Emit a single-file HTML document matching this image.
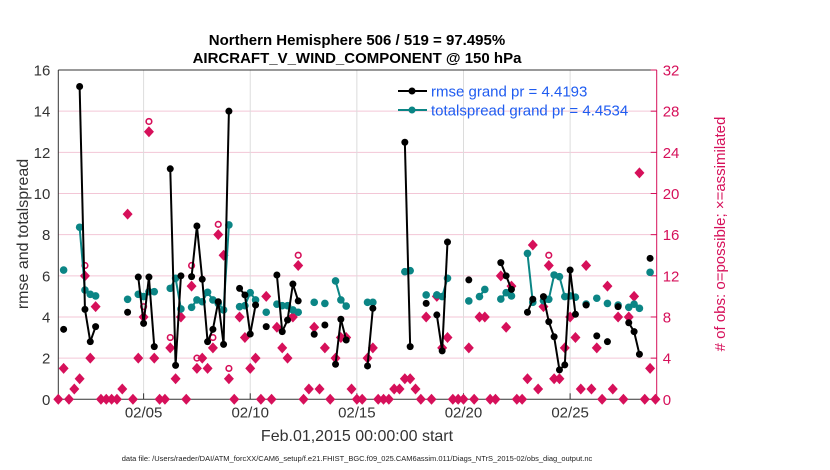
<!DOCTYPE html>
<html><head><meta charset="utf-8"><style>
body{margin:0;background:#fff;}
svg{display:block;font-family:"Liberation Sans",sans-serif;}
</style></head><body>
<svg id="chart" width="830" height="470" viewBox="0 0 830 470">
<text x="357" y="45" text-anchor="middle" font-size="15" font-weight="bold" fill="#000">Northern Hemisphere 506 / 519 = 97.495%</text>
<text x="357" y="63" text-anchor="middle" font-size="15" font-weight="bold" fill="#000">AIRCRAFT_V_WIND_COMPONENT @ 150 hPa</text>
<g id="grid"></g>
<g id="axes"></g>
<g id="marks"></g>
<text transform="translate(28,234) rotate(-90)" text-anchor="middle" font-size="16" fill="#333">rmse and totalspread</text>
<text transform="translate(725,234) rotate(-90)" text-anchor="middle" font-size="15" fill="#d6105a"># of obs: o=possible; ×=assimilated</text>
<text x="357" y="441" text-anchor="middle" font-size="16" fill="#333">Feb.01,2015 00:00:00 start</text>
<text x="357" y="461" text-anchor="middle" font-size="7.5" fill="#222">data file: /Users/raeder/DAI/ATM_forcXX/CAM6_setup/f.e21.FHIST_BGC.f09_025.CAM6assim.011/Diags_NTrS_2015-02/obs_diag_output.nc</text>
<g>
<line x1="398" y1="91" x2="427" y2="91" stroke="#000" stroke-width="2"/>
<circle cx="412" cy="91" r="3.5" fill="#000"/>
<text x="431" y="96.5" font-size="15" fill="#1f5cf0">rmse grand pr = 4.4193</text>
<line x1="398" y1="110" x2="427" y2="110" stroke="#0b8585" stroke-width="2"/>
<circle cx="412" cy="110" r="3.5" fill="#0b8585"/>
<text x="431" y="115.5" font-size="15" fill="#1f5cf0">totalspread grand pr = 4.4534</text>
</g>
</svg>
<script>
const xTickLabels=["02/05","02/10","02/15","02/20","02/25"];
const xTickDays=[5,10,15,20,25];
const yTicks=[0,2,4,6,8,10,12,14,16];
const rTicks=[0,4,8,12,16,20,24,28,32];
const N=113;
function sparse(pairs){const a=new Array(N).fill(null);for(const [i,v] of pairs)a[i]=v;return a;}
const rmse=sparse([[1,3.4],[4,15.2],[5,4.37],[6,2.8],[7,3.53],[13,4.23],[15,5.94],[16,3.69],[17,5.94],[18,2.56],[21,11.2],[22,1.65],[23,6.0],[25,5.96],[26,8.42],[27,5.83],[28,2.8],[29,3.4],[30,4.74],[31,2.67],[32,14.0],[34,5.39],[35,5.07],[36,3.17],[37,4.58],[39,3.53],[41,6.04],[42,3.29],[43,3.85],[44,5.6],[45,4.78],[48,3.16],[50,3.61],[52,1.7],[53,3.89],[54,2.88],[58,1.62],[59,4.42],[65,12.49],[66,2.56],[69,4.66],[71,4.1],[72,2.35],[73,7.64],[77,5.8],[83,6.64],[84,6.0],[85,5.34],[88,4.23],[89,4.86],[91,4.99],[92,3.77],[93,3.04],[94,1.43],[95,1.67],[96,6.28],[97,4.13],[99,4.58],[101,3.08],[103,2.8],[105,4.5],[107,3.72],[108,3.29],[109,2.19],[111,6.85]]);
const spread=sparse([[1,6.28],[4,8.36],[5,5.31],[6,5.1],[7,5.02],[13,4.86],[15,5.1],[16,4.99],[17,5.23],[18,5.23],[21,5.39],[22,5.88],[23,4.39],[25,4.47],[26,4.83],[27,4.74],[28,5.2],[29,4.83],[30,4.66],[31,4.34],[32,8.47],[34,4.5],[35,4.55],[36,5.18],[37,4.83],[39,4.23],[41,4.62],[42,4.55],[43,4.55],[44,4.34],[45,4.23],[48,4.71],[50,4.66],[52,5.75],[53,4.83],[54,4.53],[58,4.71],[59,4.71],[65,6.2],[66,6.25],[69,5.07],[71,5.07],[72,4.99],[73,5.88],[77,4.78],[79,4.99],[80,5.34],[83,4.87],[84,5.18],[85,5.02],[88,7.09],[89,4.71],[91,4.79],[92,4.86],[93,6.04],[94,5.96],[95,4.99],[96,5.02],[97,4.96],[99,4.63],[101,4.91],[103,4.66],[105,4.58],[107,4.47],[108,4.62],[109,4.42],[111,6.17]]);
const assimilated=[0,3,0,1,2,12,4,9,0,0,0,0,1,18,0,4,8,26,4,0,0,5,2,8,0,11,3,4,3,5,16,14,2,0,8,6,3,4,0,10,0,7,5,4,8,13,0,1,7,1,5,0,4,6,6,1,0,0,4,5,0,0,0,1,1,2,2,1,0,8,0,10,5,6,0,0,0,5,0,8,8,0,0,12,7,11,0,0,2,15,1,9,13,2,2,5,8,6,1,13,1,5,0,11,1,8,0,8,10,22,0,3,0];
const possible=sparse([[5,13],[16,9],[17,27],[21,6],[25,13],[26,4],[29,6],[30,17],[32,3],[34,9],[45,14],[92,14]]);

const L=58.3,R=656.7,T=70,B=399.3;
const dayMin=1,dayMax=29.06;
const xs=d=>L+(d-dayMin)/(dayMax-dayMin)*(R-L);
const xi=i=>xs(1+i*0.25);
const ys=v=>B-v/16*(B-T);
const yr=v=>B-v/32*(B-T);
const NS="http://www.w3.org/2000/svg";
function mk(parent,tag,attrs){const e=document.createElementNS(NS,tag);for(const k in attrs)e.setAttribute(k,attrs[k]);document.getElementById(parent).appendChild(e);return e;}

for(const v of yTicks){if(v>0&&v<16){const g=mk('grid','line',{x1:L,x2:R,y1:ys(v),y2:ys(v),stroke:'#f3c6d6','stroke-width':1});

}}
xTickDays.forEach((d,k)=>{const g=mk('grid','line',{x1:xs(d),x2:xs(d),y1:T,y2:B,stroke:'#dcdcdc','stroke-width':1});


mk('axes','line',{x1:xs(d),x2:xs(d),y1:B,y2:B-6,stroke:'#333'});
const t=mk('axes','text',{x:xs(d),y:B+18,'text-anchor':'middle','font-size':15,fill:'#333'});t.textContent=xTickLabels[k];

});
mk('axes','line',{x1:L,x2:R,y1:T,y2:T,stroke:'#333'});
mk('axes','line',{x1:L,x2:R,y1:B,y2:B,stroke:'#333'});
mk('axes','line',{x1:L,x2:L,y1:T,y2:B,stroke:'#333'});
mk('axes','line',{x1:R,x2:R,y1:T,y2:B,stroke:'#d6105a'});
for(const v of yTicks){const t=mk('axes','text',{x:L-8,y:ys(v)+5.5,'text-anchor':'end','font-size':15,fill:'#333'});t.textContent=v;

}
for(const v of rTicks){mk('axes','line',{x1:R,x2:R-6,y1:yr(v),y2:yr(v),stroke:'#d6105a'});
const t=mk('axes','text',{x:R+6,y:yr(v)+5.5,'font-size':15,fill:'#d6105a'});t.textContent=v;

}

// obs markers
assimilated.forEach((v,i)=>{if(v===null)return;const cx=xi(i),cy=yr(v);
const g=mk('marks','path',{d:`M${cx-5},${cy}L${cx},${cy-5.5}L${cx+5},${cy}L${cx},${cy+5.5}Z`,fill:'#d6105a'});

});
possible.forEach((v,i)=>{if(v===null)return;
const c=mk('marks','circle',{cx:xi(i),cy:yr(v),r:2.8,fill:'none',stroke:'#d6105a','stroke-width':1.6});

});

function series(arr,color,r,name){
 for(let i=0;i<N-1;i++){if(arr[i]!==null&&arr[i+1]!==null){const l=mk('marks','line',{x1:xi(i),y1:ys(arr[i]),x2:xi(i+1),y2:ys(arr[i+1]),stroke:color,'stroke-width':2});
 
 }}
 arr.forEach((v,i)=>{if(v===null)return;const c=mk('marks','circle',{cx:xi(i),cy:ys(v),r:r,fill:color});
 
 });
}
series(spread,'#0b8585',3.8,'totalspread');
series(rmse,'#000',3.5,'rmse');
</script>
</body></html>
